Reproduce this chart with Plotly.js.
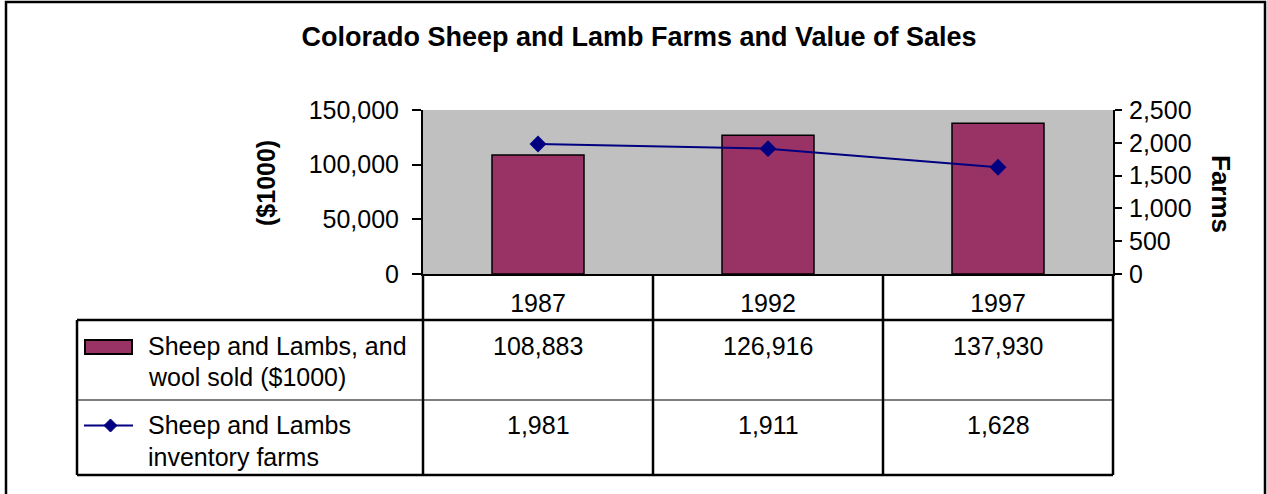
<!DOCTYPE html>
<html>
<head>
<meta charset="utf-8">
<script src="https://cdn.plot.ly/plotly-3.0.1.min.js"></script>
<style>
html,body{margin:0;padding:0;background:#fff;}
#chart{width:1267px;height:494px;}
</style>
</head>
<body>
<div id="chart"></div>
<script>
// ---- data ----
const years = ['1987', '1992', '1997'];
const salesValues = [108883, 126916, 137930];   // Sheep and Lambs, and wool sold ($1000)
const farmValues = [1981, 1911, 1628];          // Sheep and Lambs inventory farms
const salesLabel = ['Sheep and Lambs, and', 'wool sold ($1000)'];
const farmsLabel = ['Sheep and Lambs', 'inventory farms'];
const leftTicks = [0, 50000, 100000, 150000];
const rightTicks = [0, 500, 1000, 1500, 2000, 2500];
const chartTitle = 'Colorado Sheep and Lamb Farms and Value of Sales';
const leftTitle = '($1000)';
const rightTitle = 'Farms';

// ---- geometry helpers (pixel -> paper) ----
const W = 1267, H = 494;
const L = 423, R = 1113, T = 110, B = 274;
const X = px => (px - L) / (R - L);
const Y = py => (B - py) / (B - T);
const nCat = years.length;
const colEdge = i => L + i * (R - L) / nCat; // category boundaries in px

const FONT = 'Liberation Sans, Arial, sans-serif';
const fmt = v => v.toLocaleString('en-US');

const traces = [
  {
    type: 'bar', x: years, y: salesValues, name: salesLabel.join(' '),
    width: 0.4,
    marker: {color: '#993366', line: {color: '#000000', width: 1.5}},
    hoverinfo: 'skip', showlegend: false
  },
  {
    type: 'scatter', mode: 'lines+markers', x: years, y: farmValues, yaxis: 'y2',
    name: farmsLabel.join(' '),
    line: {color: '#000080', width: 2},
    marker: {symbol: 'diamond', size: 13, color: '#000080'},
    hoverinfo: 'skip', showlegend: false, cliponaxis: false
  }
];

const shapes = [];
const annotations = [];
const thick = {color: '#000', width: 2.5};
const thin = {color: '#000', width: 1.2};

// outer frame
shapes.push({type: 'rect', xref: 'paper', yref: 'paper', x0: X(6), x1: X(1265), y0: Y(2), y1: Y(510), line: {color: '#000', width: 2.5}});

// data table grid
const tTop = 320, tMid = 400, tBot = 475, tLeft = 77;
for (let i = 0; i <= nCat; i++) {
  shapes.push({type: 'line', xref: 'paper', yref: 'paper', x0: X(colEdge(i)), x1: X(colEdge(i)), y0: Y(B), y1: Y(tBot), line: thick});
}
shapes.push({type: 'line', xref: 'paper', yref: 'paper', x0: X(tLeft), x1: X(tLeft), y0: Y(tTop), y1: Y(tBot), line: thick});
shapes.push({type: 'line', xref: 'paper', yref: 'paper', x0: X(tLeft), x1: X(R), y0: Y(tTop), y1: Y(tTop), line: thick});
shapes.push({type: 'line', xref: 'paper', yref: 'paper', x0: X(tLeft), x1: X(R), y0: Y(tMid), y1: Y(tMid), line: thin});
shapes.push({type: 'line', xref: 'paper', yref: 'paper', x0: X(tLeft), x1: X(R), y0: Y(tBot), y1: Y(tBot), line: thick});

// legend keys inside table
shapes.push({type: 'rect', xref: 'paper', yref: 'paper', x0: X(85), x1: X(132), y0: Y(340), y1: Y(354),
  fillcolor: '#993366', line: {color: '#000', width: 2}});
shapes.push({type: 'line', xref: 'paper', yref: 'paper', x0: X(84), x1: X(133), y0: Y(425.5), y1: Y(425.5),
  line: {color: '#000080', width: 2}});
const dx = 6.5, dy = 6.5, cx = 110.5, cy = 425.5;
const P = (px, py) => X(px) + ',' + Y(py);
shapes.push({type: 'path', xref: 'paper', yref: 'paper',
  path: 'M' + P(cx - dx, cy) + 'L' + P(cx, cy - dy) + 'L' + P(cx + dx, cy) + 'L' + P(cx, cy + dy) + 'Z',
  fillcolor: '#000080', line: {color: '#000080', width: 1}});

const tFont = {family: FONT, size: 25, color: '#000'};
const lineCenters = [[346, 377], [425, 457]];
[salesLabel, farmsLabel].forEach((lab, r) => {
  lab.forEach((s, k) => {
    annotations.push({xref: 'paper', yref: 'paper', x: X(146), y: Y(lineCenters[r][k]), text: s,
      showarrow: false, xanchor: 'left', yanchor: 'middle', font: tFont});
  });
});
[salesValues, farmValues].forEach((vals, r) => {
  vals.forEach((v, i) => {
    annotations.push({xref: 'paper', yref: 'paper', x: X((colEdge(i) + colEdge(i + 1)) / 2), y: Y(lineCenters[r][0]),
      text: fmt(v), showarrow: false, xanchor: 'center', yanchor: 'middle', font: tFont});
  });
});

// axis titles
annotations.push({xref: 'paper', yref: 'paper', x: X(266), y: Y(183), text: '<b>' + leftTitle + '</b>', textangle: -90,
  showarrow: false, xanchor: 'center', yanchor: 'middle', font: {family: FONT, size: 25, color: '#000'}});
annotations.push({xref: 'paper', yref: 'paper', x: X(1221), y: Y(194), text: '<b>' + rightTitle + '</b>', textangle: 90,
  showarrow: false, xanchor: 'center', yanchor: 'middle', font: {family: FONT, size: 26, color: '#000'}});

const layout = {
  width: W, height: H,
  margin: {l: L, r: W - R, t: T, b: H - B, pad: 0},
  paper_bgcolor: '#ffffff',
  plot_bgcolor: '#c0c0c0',
  showlegend: false,
  title: {text: '<b>' + chartTitle + '</b>', x: 639 / W, xref: 'container', xanchor: 'center', y: 1 - 37 / H, yref: 'container', yanchor: 'middle',
    font: {family: FONT, size: 27, color: '#000'}},
  bargap: 0.6,
  xaxis: {
    type: 'category', categoryorder: 'array', categoryarray: years, range: [-0.5, nCat - 0.5],
    showline: true, linecolor: '#000', linewidth: 2, ticks: '', showgrid: false, zeroline: false,
    tickfont: {family: FONT, size: 25, color: '#000'}, ticklabelstandoff: 6, fixedrange: true
  },
  yaxis: {
    range: [0, 150000], tickvals: leftTicks, ticktext: leftTicks.map(fmt),
    showline: true, linecolor: '#000', linewidth: 2, ticks: 'outside', ticklen: 9, tickwidth: 2, tickcolor: '#000',
    showgrid: false, zeroline: false, tickfont: {family: FONT, size: 25, color: '#000'}, ticklabelstandoff: 8, fixedrange: true
  },
  yaxis2: {
    overlaying: 'y', side: 'right', range: [0, 2500], tickvals: rightTicks, ticktext: rightTicks.map(fmt),
    showline: true, linecolor: '#000', linewidth: 2, ticks: 'outside', ticklen: 7, tickwidth: 2, tickcolor: '#000',
    showgrid: false, zeroline: false, tickfont: {family: FONT, size: 25, color: '#000'}, ticklabelstandoff: 2, fixedrange: true
  },
  shapes: shapes,
  annotations: annotations
};

Plotly.newPlot('chart', traces, layout, {displayModeBar: false, staticPlot: true});
</script>
</body>
</html>
